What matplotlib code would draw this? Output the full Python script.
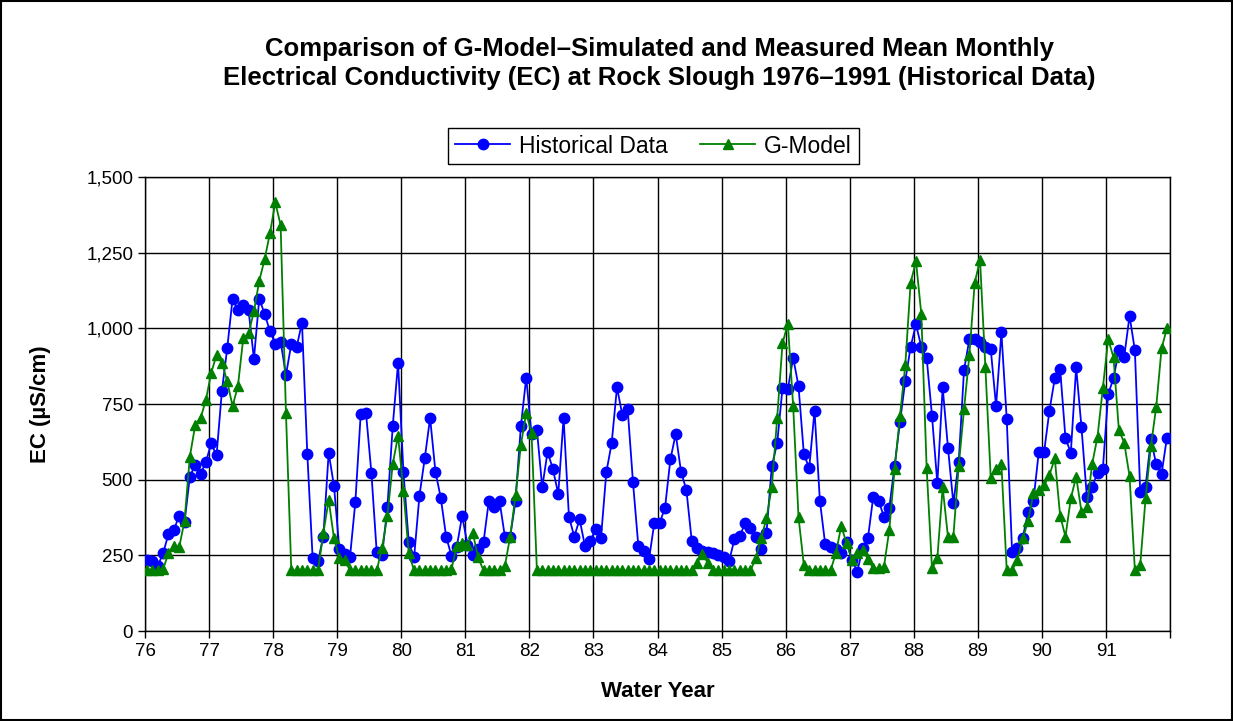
import matplotlib
matplotlib.use("Agg")
import matplotlib.pyplot as plt
from matplotlib.patches import Rectangle
from matplotlib.ticker import FuncFormatter
import numpy as np

plt.rcParams['font.family'] = ['Liberation Sans', 'DejaVu Sans']

# monthly EC (uS/cm), water years 1976-1991, Oct..Sep
hist_ec = [
    235, 230, 215, 258, 320, 334, 381, 359, 510, 549, 519, 558,
    620, 580, 793, 934, 1098, 1060, 1078, 1060, 899, 1098, 1048, 991,
    949, 956, 846, 948, 938, 1019, 585, 240, 230, 312, 589, 479,
    271, 255, 245, 427, 716, 719, 523, 260, 250, 409, 677, 886,
    526, 293, 243, 447, 571, 704, 526, 440, 312, 248, 279, 381,
    285, 251, 270, 293, 430, 409, 430, 312, 312, 430, 677, 837,
    650, 665, 475, 592, 535, 453, 704, 378, 312, 369, 281, 298,
    336, 306, 524, 620, 805, 714, 734, 491, 281, 265, 237, 358,
    358, 407, 567, 651, 526, 466, 298, 273, 265, 262, 258, 252,
    245, 231, 303, 314, 356, 341, 312, 270, 325, 545, 620, 802,
    799, 903, 809, 585, 538, 728, 431, 286, 279, 271, 259, 295,
    235, 196, 273, 306, 444, 430, 378, 407, 546, 690, 827, 939,
    1013, 939, 903, 711, 488, 805, 604, 422, 557, 862, 964, 964,
    954, 939, 932, 743, 987, 700, 262, 275, 308, 394, 430, 592,
    592, 728, 835, 866, 637, 589, 871, 673, 444, 475, 523, 535,
    783, 835, 928, 906, 1041, 928, 460, 477, 633, 551, 519, 639,
]

gmodel_ec = [
    200, 200, 200, 205, 257, 281, 276, 364, 576, 680, 703, 763,
    853, 912, 886, 825, 743, 809, 967, 983, 1056, 1157, 1228, 1314,
    1416, 1341, 721, 200, 200, 200, 200, 200, 200, 323, 433, 306,
    240, 235, 200, 200, 200, 200, 200, 200, 275, 381, 552, 645,
    464, 257, 200, 200, 200, 200, 200, 200, 200, 205, 281, 292,
    284, 323, 243, 200, 200, 200, 200, 215, 312, 449, 615, 721,
    653, 200, 200, 200, 200, 200, 200, 200, 200, 200, 200, 200,
    200, 200, 200, 200, 200, 200, 200, 200, 200, 200, 200, 200,
    200, 200, 200, 200, 200, 200, 200, 225, 255, 225, 200, 200,
    200, 200, 200, 200, 200, 200, 240, 306, 372, 477, 703, 950,
    1016, 743, 376, 218, 200, 200, 200, 200, 200, 257, 347, 290,
    235, 257, 268, 237, 207, 207, 212, 334, 535, 710, 879, 1151,
    1222, 1047, 538, 207, 240, 475, 310, 312, 545, 732, 912, 1151,
    1226, 871, 506, 535, 552, 201, 201, 235, 306, 363, 455, 466,
    482, 516, 570, 381, 312, 438, 510, 394, 409, 552, 642, 802,
    964, 904, 664, 622, 512, 201, 218, 438, 611, 741, 934, 1000,
]

first_year = 76
years = list(range(76, 93))

month = np.arange(len(hist_ec))
wy = first_year + (month + 0.4) / 12.0

fig = plt.figure(figsize=(12.33, 7.21), dpi=100)
ax = fig.add_axes([0.1176, 0.1248, 0.8314, 0.6297])

ax.plot(wy, hist_ec, color='#0000FF', lw=1.3, marker='o', ms=7.5,
        label='Historical Data', zorder=3)
ax.plot(wy, gmodel_ec, color='#008000', lw=1.3, marker='^', ms=7.5,
        label='G-Model', zorder=4)

ax.set_xlim(76, 92)
ax.set_ylim(0, 1500)
ax.set_xticks(years)
ax.set_xticklabels([str(y) if y < 92 else '' for y in years])
ax.set_yticks(np.arange(0, 1501, 250))
ax.yaxis.set_major_formatter(FuncFormatter(lambda v, p: f'{int(v):,}'))
ax.grid(True, color='black', lw=1.0)
ax.set_axisbelow(True)
ax.tick_params(axis='both', labelsize=13.5, direction='out', length=5,
               width=1, colors='black')
for s in ax.spines.values():
    s.set_color('black')
    s.set_linewidth(1.0)

ax.set_xlabel('Water Year', fontsize=16, fontweight='bold', labelpad=15)
ax.set_ylabel('EC (µS/cm)', fontsize=16, fontweight='bold', labelpad=25)

fig.text(0.535, 0.912,
         'Comparison of G-Model\u2013Simulated and Measured Mean Monthly\n'
         'Electrical Conductivity (EC) at Rock Slough 1976\u20131991 (Historical Data)',
         ha='center', va='center', fontsize=18.5, fontweight='bold',
         linespacing=1.27)

leg = fig.legend(loc='center', bbox_to_anchor=(0.53, 0.7975), ncol=2,
                 fontsize=16.5, frameon=True, fancybox=False, framealpha=1,
                 edgecolor='black', handlelength=2.4, columnspacing=1.4,
                 borderpad=0.3, handletextpad=0.4)
leg.get_frame().set_linewidth(1.0)

# outer chart border
fig.patches.append(Rectangle((0.001, 0.001), 0.998, 0.998, transform=fig.transFigure,
                             fill=False, edgecolor='black', lw=1.5))

fig.savefig('out.png', dpi=100)
